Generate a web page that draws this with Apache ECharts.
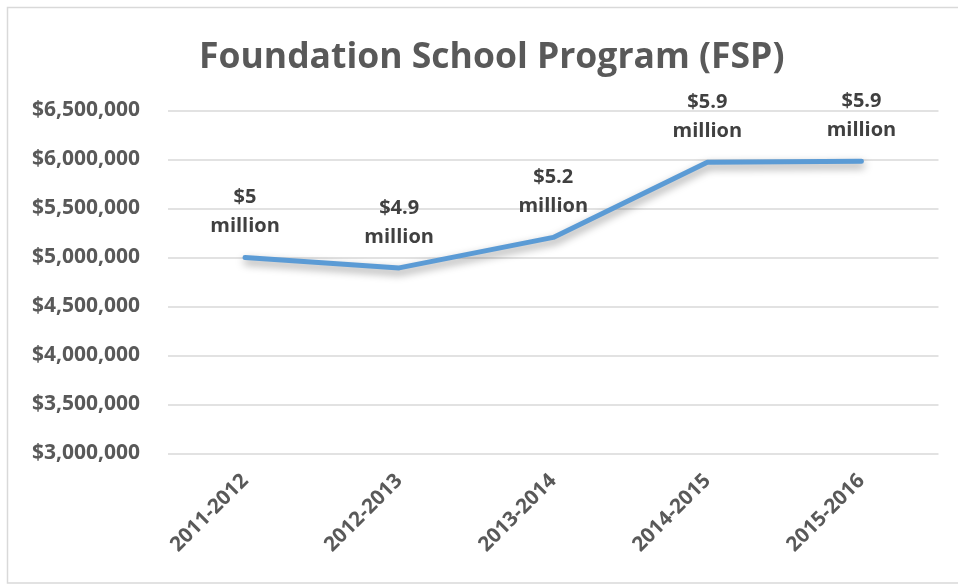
<!DOCTYPE html>
<html>
<head>
<meta charset="utf-8">
<script src="https://cdn.jsdelivr.net/npm/echarts@6/dist/echarts.min.js"></script>
<style>html,body{margin:0;padding:0;background:#fff}#c{width:958px;height:584px}</style>
</head>
<body>
<div id="c"></div>
<script>
const titleText = 'Foundation School Program (FSP)';
const categories = ['2011-2012', '2012-2013', '2013-2014', '2014-2015', '2015-2016'];
const values = [5000000, 4894000, 5205000, 5973000, 5982000];
const pointLabels = ['$5\nmillion', '$4.9\nmillion', '$5.2\nmillion', '$5.9\nmillion', '$5.9\nmillion'];
const yMin = 3000000, yMax = 6500000, yStep = 500000;

const font = 'Open Sans';
const chart = echarts.init(document.getElementById('c'), null, {renderer: 'canvas'});
chart.setOption({
  animation: false,
  backgroundColor: '#fff',
  graphic: [{
    type: 'rect', shape: {x: 7.5, y: 7.5, width: 980, height: 575.5},
    style: {fill: 'none', stroke: '#d9d9d9', lineWidth: 1.5}, silent: true
  }],
  title: {
    text: titleText, left: 194, top: 35,
    textStyle: {fontFamily: font, fontWeight: 'bold', fontSize: 35.5, color: '#595959'}
  },
  grid: {left: 168, right: 19.5, top: 110.5, bottom: 130.5, containLabel: false},
  xAxis: {
    type: 'category', data: categories, boundaryGap: true,
    axisLine: {show: false}, axisTick: {show: false},
    axisLabel: {rotate: 45, fontFamily: font, fontWeight: 'bold', fontSize: 20.5, color: '#595959', margin: 24}
  },
  yAxis: {
    type: 'value', min: yMin, max: yMax, interval: yStep,
    axisLine: {show: false}, axisTick: {show: false},
    splitLine: {lineStyle: {color: '#d9d9d9', width: 1.5}},
    axisLabel: {
      fontFamily: font, fontWeight: 'bold', fontSize: 21, color: '#595959', margin: 28,
      formatter: v => '$' + v.toLocaleString('en-US')
    }
  },
  series: [{
    type: 'line', data: values, symbol: 'circle', symbolSize: 1, showSymbol: true,
    itemStyle: {color: 'rgba(91,155,213,0)'},
    lineStyle: {color: '#5b9bd5', width: 5, cap: 'round', join: 'round',
      shadowColor: 'rgba(0,0,0,0.4)', shadowBlur: 8, shadowOffsetX: 1, shadowOffsetY: 4},
    label: {
      show: true, position: 'top', distance: 16,
      formatter: p => pointLabels[p.dataIndex],
      fontFamily: font, fontWeight: 'bold', fontSize: 20, color: '#404040', lineHeight: 29, align: 'center'
    },
    labelLayout: {hideOverlap: false}
  }]
});
</script>
</body>
</html>
